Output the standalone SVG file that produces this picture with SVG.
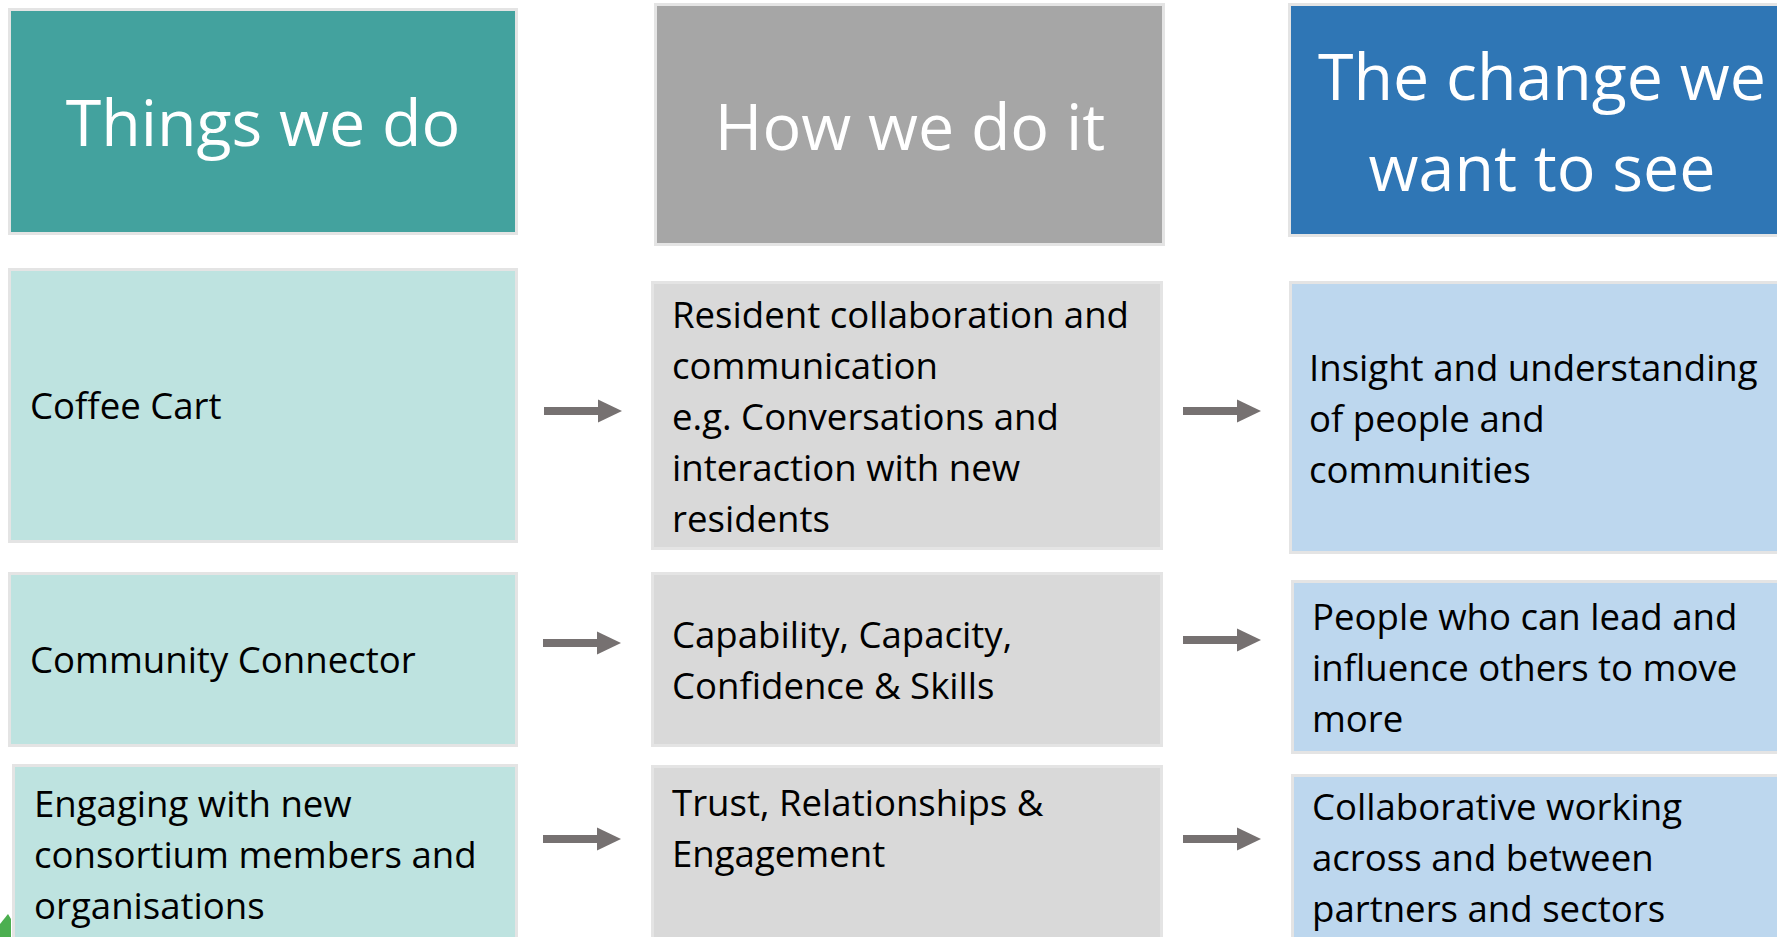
<svg xmlns="http://www.w3.org/2000/svg" width="1777" height="937" viewBox="0 0 1777 937">
<style>
  .box { stroke: #E4E4E4; stroke-width: 3; }
  .h1 { fill: #43A29E; }
  .h2 { fill: #A6A6A6; }
  .h3 { fill: #2F76B5; }
  .c1 { fill: #BEE3E0; }
  .c2 { fill: #D9D9D9; }
  .c3 { fill: #BDD7EE; }
  .head { font-family: "Open Sans", "Noto Sans", sans-serif; font-size: 64.5px; fill: #FFFFFF; text-anchor: middle; }
  .body { font-family: "Open Sans", "Noto Sans", sans-serif; font-size: 36.6px; fill: #000000; }
  .arrow { stroke: #767171; stroke-width: 8; fill: none; marker-end: url(#ah); }
</style>
<defs>
  <marker id="ah" markerUnits="userSpaceOnUse" markerWidth="24" markerHeight="24" refX="0" refY="12" orient="auto">
    <path d="M0,0.5 L24,12 L0,23.5 Z" fill="#767171"/>
  </marker>
</defs>
<rect width="1777" height="937" fill="#FFFFFF"/>

<polygon points="0,924 8,914 11,919 11,937 0,937" fill="#4CAF50"/>

<g id="header-things">
  <rect class="box h1" x="9.5" y="9.5" width="507" height="224"/>
  <text class="head" x="263" y="146">Things we do</text>
</g>
<g id="header-how">
  <rect class="box h2" x="655.5" y="4.5" width="508" height="240"/>
  <text class="head" x="910" y="150">How we do it</text>
</g>
<g id="header-change">
  <rect class="box h3" x="1289.5" y="4.5" width="520" height="231"/>
  <text class="head" x="1542" y="100">The change we</text>
  <text class="head" x="1542" y="191">want to see</text>
</g>

<g id="coffee-cart">
  <rect class="box c1" x="9.5" y="269.5" width="507" height="272"/>
  <text class="body" x="30" y="419">Coffee Cart</text>
</g>
<g id="resident-collaboration">
  <rect class="box c2" x="652.5" y="282.5" width="509" height="266"/>
  <text class="body" x="672" y="328">Resident collaboration and</text>
  <text class="body" x="672" y="379">communication</text>
  <text class="body" x="672" y="430">e.g. Conversations and</text>
  <text class="body" x="672" y="481">interaction with new</text>
  <text class="body" x="672" y="532">residents</text>
</g>
<g id="insight">
  <rect class="box c3" x="1290.5" y="282.5" width="520" height="270"/>
  <text class="body" x="1309" y="381">Insight and understanding</text>
  <text class="body" x="1309" y="432">of people and</text>
  <text class="body" x="1309" y="483">communities</text>
</g>

<g id="community-connector">
  <rect class="box c1" x="9.5" y="573.5" width="507" height="172"/>
  <text class="body" x="30" y="673">Community Connector</text>
</g>
<g id="capability">
  <rect class="box c2" x="652.5" y="573.5" width="509" height="172"/>
  <text class="body" x="672" y="648">Capability, Capacity,</text>
  <text class="body" x="672" y="699">Confidence &amp; Skills</text>
</g>
<g id="people-lead">
  <rect class="box c3" x="1292.5" y="581.5" width="520" height="171"/>
  <text class="body" x="1312" y="630">People who can lead and</text>
  <text class="body" x="1312" y="681">influence others to move</text>
  <text class="body" x="1312" y="732">more</text>
</g>

<g id="engaging">
  <rect class="box c1" x="13.5" y="765.5" width="503" height="190"/>
  <text class="body" x="34" y="817">Engaging with new</text>
  <text class="body" x="34" y="868">consortium members and</text>
  <text class="body" x="34" y="919">organisations</text>
</g>
<g id="trust">
  <rect class="box c2" x="652.5" y="766.5" width="509" height="190"/>
  <text class="body" x="672" y="816">Trust, Relationships &amp;</text>
  <text class="body" x="672" y="867">Engagement</text>
</g>
<g id="collaborative">
  <rect class="box c3" x="1292.5" y="775.5" width="520" height="190"/>
  <text class="body" x="1312" y="820">Collaborative working</text>
  <text class="body" x="1312" y="871">across and between</text>
  <text class="body" x="1312" y="922">partners and sectors</text>
</g>

<g id="connectors">
  <line class="arrow" x1="544" y1="411" x2="598" y2="411"/>
  <line class="arrow" x1="1183" y1="411" x2="1237" y2="411"/>
  <line class="arrow" x1="543" y1="643" x2="597" y2="643"/>
  <line class="arrow" x1="1183" y1="640" x2="1237" y2="640"/>
  <line class="arrow" x1="543" y1="839" x2="597" y2="839"/>
  <line class="arrow" x1="1183" y1="839" x2="1237" y2="839"/>
</g>
</svg>
